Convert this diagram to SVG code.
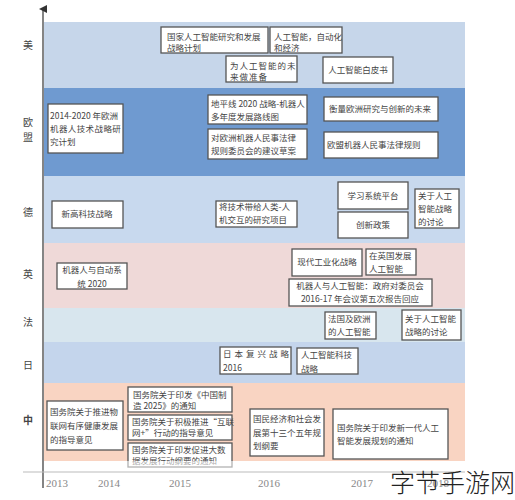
<svg xmlns="http://www.w3.org/2000/svg" width="515" height="500" viewBox="0 0 515 500">
<defs>
<style>
.box{fill:#fff;stroke:#555;stroke-width:1.3}
.t{font-family:"Noto Sans CJK SC","Liberation Serif",serif;font-size:8.5px;fill:#444}
.c{text-anchor:middle}
.lab{font-family:"Noto Sans CJK SC",serif;font-size:10px;fill:#444;text-anchor:middle}
.yr{font-family:"Liberation Serif",serif;font-size:11px;fill:#888;text-anchor:middle}
.ax{stroke:#333;stroke-width:1.2;fill:none}
</style>
<marker id="ah" markerWidth="8" markerHeight="8" refX="4" refY="4" orient="auto" markerUnits="userSpaceOnUse">
<path d="M0,8 L4,0 L8,8 Z" fill="#333"/>
</marker>
</defs>
<rect width="515" height="500" fill="#fff"/>
<g id="bands">
<rect x="44" y="22" width="421" height="66" fill="#c6d6ea"/>
<rect x="44" y="88" width="421" height="88" fill="#6f9ad0"/>
<rect x="44" y="176" width="421" height="67" fill="#c8d9ee"/>
<rect x="44" y="243" width="421" height="65" fill="#efd9d8"/>
<rect x="44" y="308" width="421" height="34" fill="#d8e6ee"/>
<rect x="44" y="342" width="421" height="41" fill="#c4d5ec"/>
<rect x="44" y="383" width="421" height="78" fill="#f9d4c2"/>
</g>
<g id="labels">
<text class="lab" x="28" y="49">美</text>
<text class="lab" x="28" y="126">欧</text>
<text class="lab" x="28" y="141">盟</text>
<text class="lab" x="28" y="216">德</text>
<text class="lab" x="28" y="278">英</text>
<text class="lab" x="28" y="326">法</text>
<text class="lab" x="28" y="369">日</text>
<text class="lab" x="28" y="424" font-weight="bold">中</text>
</g>
<g id="n-us1"><rect class="box" x="161" y="27" width="107" height="26"/><text class="t" x="167" y="40">国家人工智能研究和发展</text><text class="t" x="167" y="51">战略计划</text></g>
<g id="n-us2"><rect class="box" x="270" y="27" width="72" height="26"/><text class="t" x="274" y="40">人工智能，自动化</text><text class="t" x="274" y="51">和经济</text></g>
<g id="n-us3"><rect class="box" x="226" y="56" width="71" height="26"/><text class="t" x="230" y="69" letter-spacing="1">为人工智能的未</text><text class="t" x="230" y="80" letter-spacing="1">来做准备</text></g>
<g id="n-us4"><rect class="box" x="323" y="57" width="70" height="26"/><text class="t c" x="358" y="73">人工智能白皮书</text></g>
<g id="n-eu1"><rect class="box" x="48" y="104" width="75" height="49"/><text class="t" x="50" y="119">2014-2020 年欧洲</text><text class="t" x="50" y="132" letter-spacing="0.4">机器人技术战略研</text><text class="t" x="50" y="145">究计划</text></g>
<g id="n-eu2"><rect class="box" x="208" y="95" width="99" height="29"/><text class="t" x="211" y="107" font-size="8">地平线 2020 战略-机器人</text><text class="t" x="211" y="120">多年度发展路线图</text></g>
<g id="n-eu3"><rect class="box" x="208" y="129" width="99" height="30"/><text class="t" x="211" y="141">对欧洲机器人民事法律</text><text class="t" x="211" y="154">规则委员会的建议草案</text></g>
<g id="n-eu4"><rect class="box" x="324" y="97" width="114" height="24"/><text class="t" x="329" y="112">衡量欧洲研究与创新的未来</text></g>
<g id="n-eu5"><rect class="box" x="324" y="132" width="114" height="26"/><text class="t" x="327" y="148">欧盟机器人民事法律规则</text></g>
<g id="n-de1"><rect class="box" x="52" y="201" width="71" height="27"/><text class="t c" x="87" y="217">新高科技战略</text></g>
<g id="n-de2"><rect class="box" x="216" y="201" width="81" height="26"/><text class="t" x="219" y="210">将技术带给人类-人</text><text class="t" x="219" y="223">机交互的研究项目</text></g>
<g id="n-de3"><rect class="box" x="338" y="182" width="70" height="27"/><text class="t c" x="373" y="199">学习系统平台</text></g>
<g id="n-de4"><rect class="box" x="338" y="212" width="70" height="26"/><text class="t c" x="373" y="228">创新政策</text></g>
<g id="n-de5"><rect class="box" x="415" y="189" width="44" height="39"/><text class="t" x="418" y="199">关于人工</text><text class="t" x="418" y="212">智能战略</text><text class="t" x="418" y="225">的讨论</text></g>
<g id="n-uk1"><rect class="box" x="57" y="263" width="70" height="26"/><text class="t c" x="92" y="273">机器人与自动系</text><text class="t c" x="92" y="287">统 2020</text></g>
<g id="n-uk2"><rect class="box" x="292" y="249" width="70" height="27"/><text class="t c" x="327" y="265">现代工业化战略</text></g>
<g id="n-uk3"><rect class="box" x="366" y="249" width="50" height="26"/><text class="t" x="369" y="259">在英国发展</text><text class="t" x="369" y="272">人工智能</text></g>
<g id="n-uk4"><rect class="box" x="289" y="279" width="143" height="27"/><text class="t c" x="360" y="289">机器人与人工智能：政府对委员会</text><text class="t c" x="360" y="302">2016-17 年会议第五次报告回应</text></g>
<g id="n-fr1"><rect class="box" x="325" y="312" width="51" height="27"/><text class="t" x="328" y="322">法国及欧洲</text><text class="t" x="328" y="335">的人工智能</text></g>
<g id="n-fr2"><rect class="box" x="402" y="310" width="59" height="30"/><text class="t" x="405" y="322">关于人工智能</text><text class="t" x="405" y="335">战略的讨论</text></g>
<g id="n-jp1"><rect class="box" x="220" y="347" width="71" height="27"/><text class="t" x="223" y="357" letter-spacing="3">日本复兴战略</text><text class="t" x="223" y="371">2016</text></g>
<g id="n-jp2"><rect class="box" x="297" y="348" width="61" height="26"/><text class="t" x="301" y="358">人工智能科技</text><text class="t" x="301" y="372">战略</text></g>
<g id="n-cn1"><rect class="box" x="47" y="401" width="76" height="49"/><text class="t" x="50" y="415">国务院关于推进物</text><text class="t" x="50" y="429">联网有序健康发展</text><text class="t" x="50" y="443">的指导意见</text></g>
<g id="n-cn2"><rect class="box" x="128" y="387" width="104" height="25"/><text class="t" x="133" y="398">国务院关于印发《中国制</text><text class="t" x="133" y="409">造 2025》的通知</text></g>
<g id="n-cn3"><rect class="box" x="128" y="415" width="104" height="25"/><text class="t" x="132" y="425">国务院关于积极推进“互联</text><text class="t" x="132" y="436">网+”行动的指导意见</text></g>
<g id="n-cn4"><rect class="box" x="128" y="443" width="104" height="24"/><text class="t" x="132" y="453">国务院关于印发促进大数</text><text class="t" x="132" y="464">据发展行动纲要的通知</text></g>
<g id="n-cn5"><rect class="box" x="250" y="409" width="74" height="47"/><text class="t" x="253" y="422">国民经济和社会发</text><text class="t" x="253" y="436">展第十三个五年规</text><text class="t" x="253" y="449">划纲要</text></g>
<g id="n-cn6"><rect class="box" x="333" y="409" width="115" height="50"/><text class="t" x="337" y="431">国务院关于印发新一代人工</text><text class="t" x="337" y="444">智能发展规划的通知</text></g>
<rect x="44" y="461" width="421" height="9" fill="#fff" opacity="0.55"/>
<g id="connectors">
<line class="ax" x1="43" y1="488" x2="43" y2="9" marker-end="url(#ah)"/>
<line x1="23" y1="472" x2="465" y2="472" stroke="#bbb" stroke-width="1"/>
</g>
<g id="years">
<text class="yr" x="57" y="487">2013</text>
<text class="yr" x="109" y="487">2014</text>
<text class="yr" x="180" y="487">2015</text>
<text class="yr" x="269" y="487">2016</text>
<text class="yr" x="362" y="487">2017</text>
<text class="yr" x="438" y="487">2018</text>
</g>
<text x="390" y="492" font-family="Noto Sans CJK SC,sans-serif" font-size="25" font-weight="300" fill="#222">字节手游网</text>
</svg>
